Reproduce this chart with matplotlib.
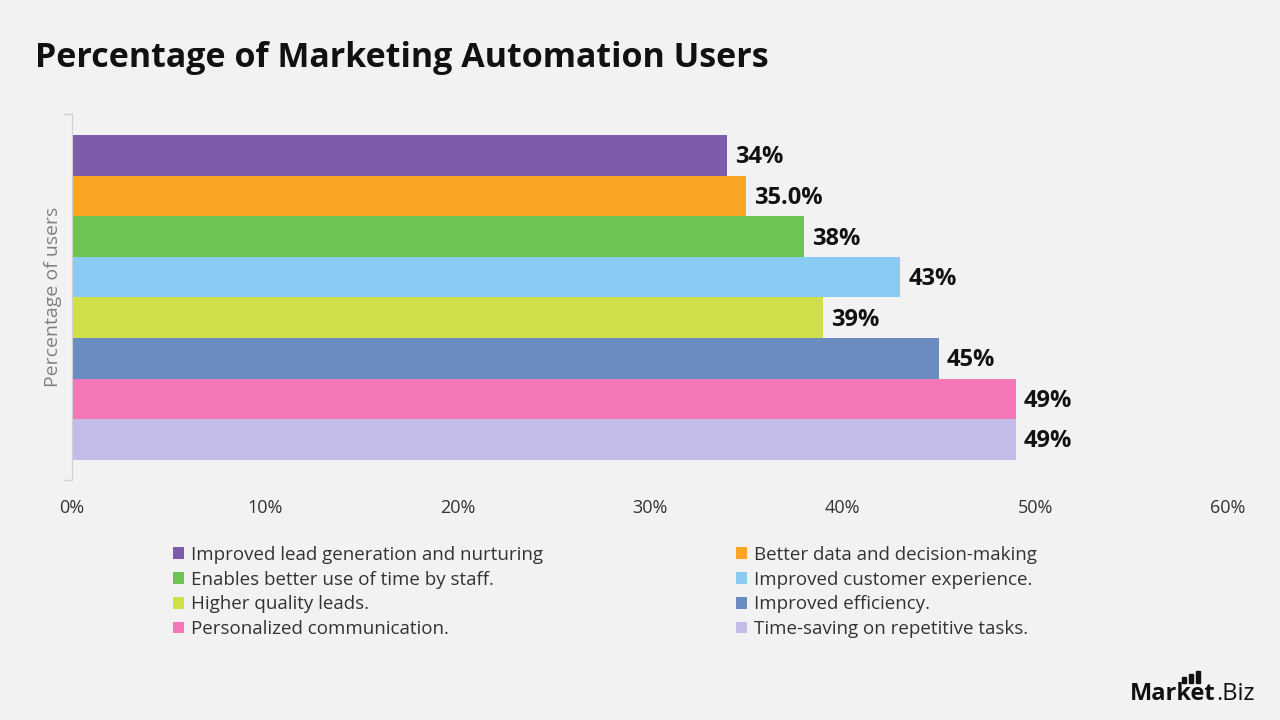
import matplotlib.pyplot as plt
from matplotlib.patches import Rectangle

categories = ["Improved lead generation and nurturing",
              "Better data and decision-making",
              "Enables better use of time by staff.",
              "Improved customer experience.",
              "Higher quality leads.",
              "Improved efficiency.",
              "Personalized communication.",
              "Time-saving on repetitive tasks."]
values = [34, 35, 38, 43, 39, 45, 49, 49]
value_labels = ["34%", "35.0%", "38%", "43%", "39%", "45%", "49%", "49%"]
colors = ["#7f5bae", "#fba524", "#6cc551", "#89cbf3",
          "#d1e04a", "#6b8cc0", "#f577b8", "#c3bbe9"]
xticks = [0, 10, 20, 30, 40, 50, 60]

plt.rcParams['font.family'] = ['Open Sans', 'DejaVu Sans']
bg = "#f2f2f2"

fig = plt.figure(figsize=(12.8, 7.2), dpi=100, facecolor=bg)
ax = fig.add_axes([72/1280, 1-480/720, (1228-72)/1280, (480-114)/720])
ax.set_facecolor(bg)

handles = []
for i, (v, c) in enumerate(zip(values, colors)):
    b = ax.barh(i, v, height=1.0, color=c, label=categories[i])
    handles.append(b)
    ax.text(v + 0.4, i + 0.05, value_labels[i], va="center", ha="left",
            fontsize=17, fontweight="bold", color="#111111")

ax.set_xlim(0, 60)
ax.set_ylim(7.5 + 0.5, -0.5 - 0.52)
ax.set_xticks(xticks)
ax.set_xticklabels([f"{t}%" for t in xticks], fontsize=13, color="#333333")
ax.tick_params(axis="x", length=0, pad=14)
ax.set_yticks(list(ax.get_ylim()))
ax.set_yticklabels([])
ax.tick_params(axis="y", length=6, color="#d0d0d0", width=1)
for s in ["top", "right", "bottom"]:
    ax.spines[s].set_visible(False)
ax.spines["left"].set_color("#d0d0d0")
ax.set_ylabel("Percentage of users", fontsize=14, color="#808080", labelpad=-2)

fig.text(35/1280, 1-58/720, "Percentage of Marketing Automation Users",
         fontsize=24.5, fontweight="bold", color="#111111", va="center")

# legend: row-major order in two columns
order = [0, 2, 4, 6, 1, 3, 5, 7]
leg = fig.legend([handles[k] for k in order], [categories[k] for k in order],
                 ncol=2, loc="upper left", bbox_to_anchor=(156/1280, 1-529/720),
                 frameon=False, fontsize=13.5, handlelength=0.6, handleheight=0.6,
                 handletextpad=0.35, labelspacing=0.36, columnspacing=10.3,
                 labelcolor="#333333")

# logo
r = fig.canvas.get_renderer()
t1 = fig.text(1130/1280, 1-700/720, "Market", fontsize=17, fontweight="bold",
              color="#111111", va="baseline")
bb = t1.get_window_extent(r)
fig.text((bb.x1 + 1) / 1280, 1-700/720, ".Biz", fontsize=17, color="#111111",
         va="baseline")
for k, h in enumerate([6, 9, 12]):
    fig.add_artist(Rectangle(((1182 + k * 7) / 1280, 1 - 683/720), 4/1280, h/720,
                             transform=fig.transFigure, color="#111111"))

fig.savefig("out.png", dpi=100, facecolor=bg)
